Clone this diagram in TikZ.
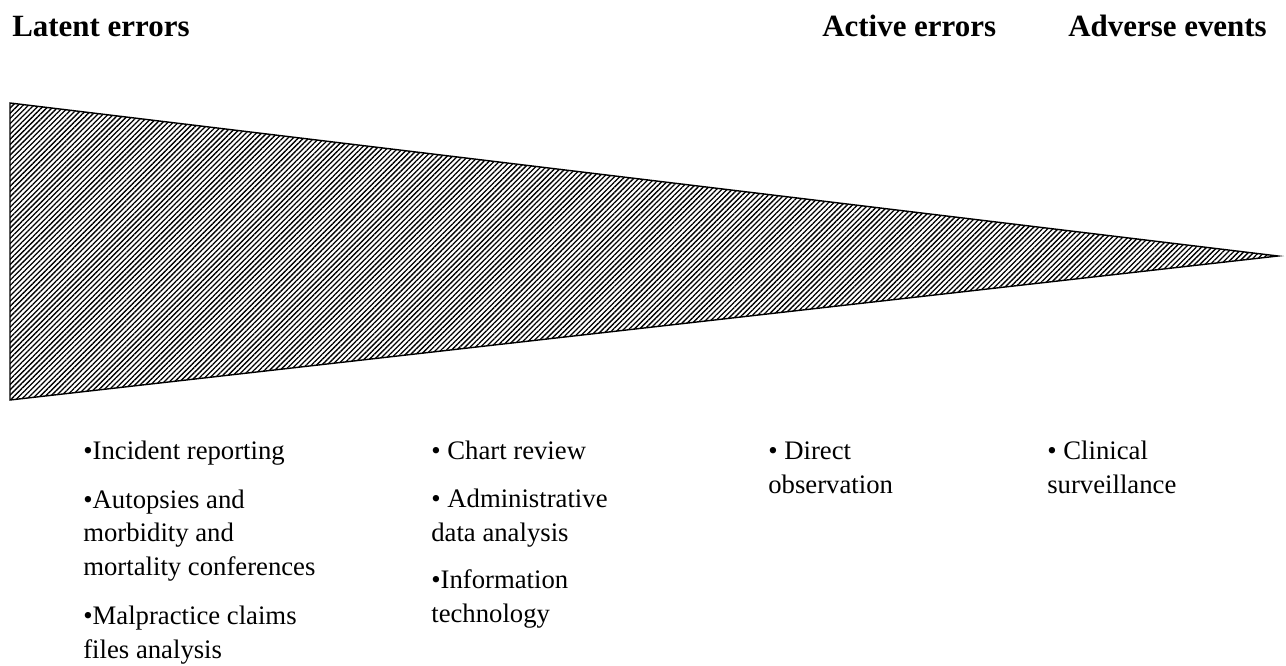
\documentclass[tikz,border=0pt]{standalone}
\usepackage{fontspec}
\setmainfont{Liberation Serif}
\usetikzlibrary{patterns.meta}
\tikzset{head/.style = {anchor = base west, inner sep = 0,
                        font = \fontsize{17.6}{21}\selectfont\bfseries}}
\tikzset{item/.style = {anchor = base west, inner sep = 0, align = left,
                        font = \fontsize{15.2}{18.9}\selectfont}}
\tikzset{hatch/.style = {pattern = {Lines[angle = 45, distance = 2.1pt,
                                          line width = 0.75pt]}}}

\begin{document}
\begin{tikzpicture}[x = 0.02cm, y = -0.02cm]
  \useasboundingbox (0, 0) rectangle (1286, 666);
  % the wedge
  \draw [line width = 0.8pt, hatch] (10, 103) -- (1278, 256) -- (10, 400) -- cycle;
  % headings
  \node [head] (latent) at (12, 36) {Latent errors};
  \node [head] (active) at (822, 36) {Active errors};
  \node [head] (adverse) at (1068, 36) {Adverse events};
  % methods under the wedge (base = last line)
  \node [item] (incident) at (83, 459) {•Incident reporting};
  \node [item] (autopsy) at (83, 575) {•Autopsies and\\morbidity and\\mortality conferences};
  \node [item] (claims) at (83, 658) {•Malpractice claims\\files analysis};
  \node [item] (chart) at (431, 459) {• Chart review};
  \node [item] (admin) at (431, 541) {• Administrative\\data analysis};
  \node [item] (infotech) at (431, 622) {•Information\\technology};
  \node [item] (direct) at (768, 493) {• Direct\\observation};
  \node [item] (clinical) at (1047, 493) {• Clinical\\surveillance};
\end{tikzpicture}
\end{document}
